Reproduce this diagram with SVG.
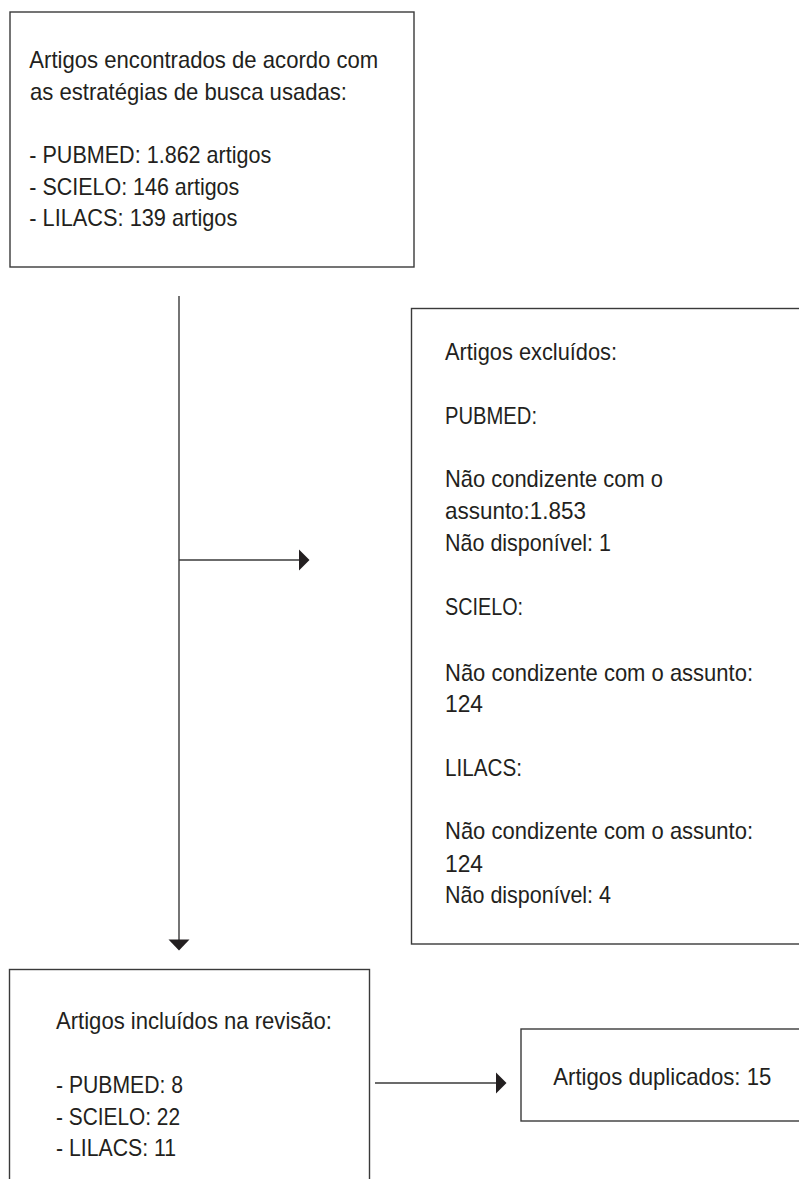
<svg xmlns="http://www.w3.org/2000/svg" width="799" height="1179" viewBox="0 0 799 1179">
<style>
.box{fill:#fff;stroke:#3a3a3a;stroke-width:1.4}
.t{font-family:"Liberation Sans",Arial,sans-serif;font-size:24px;fill:#231f20}
.ln{stroke:#3a3a3a;stroke-width:1.4;fill:none}
.ah{fill:#231f20}
</style>
<rect width="799" height="1179" fill="#fff"/>
<g id="connectors">
<line class="ln" x1="179" y1="296" x2="179" y2="941"/>
<polygon class="ah" points="168.5,939.5 189.5,939.5 179,950.5"/>
<line class="ln" x1="179" y1="560" x2="300" y2="560"/>
<polygon class="ah" points="299,549.5 309.5,560 299,570.5"/>
<line class="ln" x1="375" y1="1083" x2="497" y2="1083"/>
<polygon class="ah" points="496,1072.5 506.5,1083 496,1093.5"/>
</g>
<g id="node-found">
<rect class="box" x="10" y="12" width="404" height="255"/>
<text class="t" x="29.3" y="68.3" textLength="349" lengthAdjust="spacingAndGlyphs">Artigos encontrados de acordo com</text>
<text class="t" x="30" y="100" textLength="317" lengthAdjust="spacingAndGlyphs">as estratégias de busca usadas:</text>
<text class="t" x="29.3" y="163.3" textLength="242" lengthAdjust="spacingAndGlyphs">- PUBMED: 1.862 artigos</text>
<text class="t" x="29.3" y="195" textLength="210" lengthAdjust="spacingAndGlyphs">- SCIELO: 146 artigos</text>
<text class="t" x="29.3" y="226.3" textLength="208" lengthAdjust="spacingAndGlyphs">- LILACS: 139 artigos</text>
</g>
<g id="node-excluded">
<rect class="box" x="411.5" y="308.5" width="400" height="635.5"/>
<text class="t" x="445" y="360" textLength="172" lengthAdjust="spacingAndGlyphs">Artigos excluídos:</text>
<text class="t" x="445" y="424" textLength="92" lengthAdjust="spacingAndGlyphs">PUBMED:</text>
<text class="t" x="445" y="487" textLength="218" lengthAdjust="spacingAndGlyphs">Não condizente com o</text>
<text class="t" x="445" y="519" textLength="141" lengthAdjust="spacingAndGlyphs">assunto:1.853</text>
<text class="t" x="445" y="551" textLength="166" lengthAdjust="spacingAndGlyphs">Não disponível: 1</text>
<text class="t" x="445" y="615" textLength="78" lengthAdjust="spacingAndGlyphs">SCIELO:</text>
<text class="t" x="445" y="681" textLength="308" lengthAdjust="spacingAndGlyphs">Não condizente com o assunto:</text>
<text class="t" x="445" y="712.3" textLength="38" lengthAdjust="spacingAndGlyphs">124</text>
<text class="t" x="445" y="776" textLength="77" lengthAdjust="spacingAndGlyphs">LILACS:</text>
<text class="t" x="445" y="839.3" textLength="308" lengthAdjust="spacingAndGlyphs">Não condizente com o assunto:</text>
<text class="t" x="445" y="871.7" textLength="38" lengthAdjust="spacingAndGlyphs">124</text>
<text class="t" x="445" y="903" textLength="166" lengthAdjust="spacingAndGlyphs">Não disponível: 4</text>
</g>
<g id="node-included">
<rect class="box" x="9.5" y="969.5" width="360" height="260"/>
<text class="t" x="56" y="1029.3" textLength="276" lengthAdjust="spacingAndGlyphs">Artigos incluídos na revisão:</text>
<text class="t" x="56" y="1092.7" textLength="127" lengthAdjust="spacingAndGlyphs">- PUBMED: 8</text>
<text class="t" x="56" y="1125" textLength="124" lengthAdjust="spacingAndGlyphs">- SCIELO: 22</text>
<text class="t" x="56" y="1156" textLength="120" lengthAdjust="spacingAndGlyphs">- LILACS: 11</text>
</g>
<g id="node-duplicates">
<rect class="box" x="521" y="1029" width="300" height="92"/>
<text class="t" x="553.3" y="1084.5" textLength="218" lengthAdjust="spacingAndGlyphs">Artigos duplicados: 15</text>
</g>
</svg>
